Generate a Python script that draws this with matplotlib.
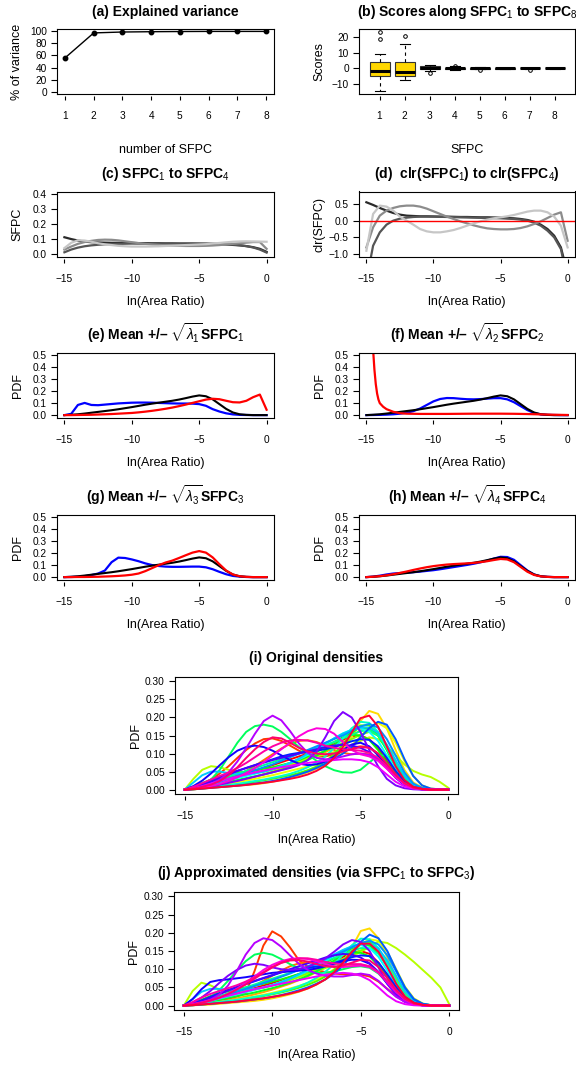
import numpy as np
import matplotlib
matplotlib.use("Agg")
import matplotlib.pyplot as plt
from matplotlib.path import Path
from matplotlib.colors import hsv_to_rgb

plt.rcParams["font.family"] = "Liberation Sans"
plt.rcParams["mathtext.fontset"] = "custom"
plt.rcParams["mathtext.rm"] = "Liberation Sans"
plt.rcParams["mathtext.it"] = "Liberation Sans:italic"
plt.rcParams["mathtext.bf"] = "Liberation Sans:bold"
plt.rcParams["axes.linewidth"] = 0.8

# ---------------- data ----------------
n_sfpc = [1, 2, 3, 4, 5, 6, 7, 8]
cum_var = [56, 97.5, 99, 99.5, 99.8, 100, 100, 100]

box_med = [-1.5, -2.2, 0.4, 0.0, 0.0, 0.0, 0.0, 0.0]
box_q1 = [-4.9, -4.9, -0.4, -0.5, -0.2, -0.15, -0.1, -0.08]
box_q3 = [3.8, 3.8, 1.2, 0.5, 0.2, 0.15, 0.1, 0.08]
box_lo = [-14.8, -7.5, -2.0, -1.2, -0.6, -0.4, -0.3, -0.2]
box_hi = [9.0, 15.6, 2.2, 1.2, 0.6, 0.4, 0.3, 0.2]
box_fliers = [[23.5, 18.8], [20.4], [-3.0], [1.7], [-1.3], [], [-1.0], []]

# x grid of ln(area ratio), step 0.5
ln_ratio = np.linspace(-15, 0, 31)

# (c) SFPC1..SFPC4
sfpc = [
    [0.112, 0.1, 0.09, 0.083, 0.079, 0.077, 0.076, 0.075, 0.075, 0.074, 0.074, 0.073, 0.073, 0.072, 0.072, 0.071,
     0.071, 0.07, 0.07, 0.07, 0.069, 0.068, 0.067, 0.066, 0.064, 0.061, 0.058, 0.053, 0.046, 0.035, 0.015],
    [0.012, 0.03, 0.043, 0.052, 0.058, 0.062, 0.065, 0.067, 0.068, 0.069, 0.07, 0.07, 0.07, 0.07, 0.07, 0.07,
     0.07, 0.07, 0.07, 0.07, 0.07, 0.07, 0.069, 0.068, 0.066, 0.063, 0.059, 0.053, 0.044, 0.03, 0.01],
    [0.03, 0.05, 0.068, 0.08, 0.088, 0.094, 0.096, 0.095, 0.091, 0.085, 0.079, 0.073, 0.068, 0.064, 0.061, 0.058,
     0.056, 0.055, 0.054, 0.054, 0.054, 0.055, 0.057, 0.06, 0.064, 0.068, 0.072, 0.076, 0.08, 0.08, 0.035],
    [0.04, 0.075, 0.092, 0.09, 0.082, 0.072, 0.065, 0.06, 0.055, 0.052, 0.05, 0.05, 0.05, 0.051, 0.052, 0.054,
     0.056, 0.058, 0.06, 0.062, 0.064, 0.066, 0.07, 0.074, 0.078, 0.082, 0.084, 0.085, 0.084, 0.083, 0.082],
]

# (d) clr(SFPC1..SFPC4)
clr_sfpc = [
    [0.55, 0.47, 0.38, 0.30, 0.23, 0.18, 0.15, 0.14, 0.13, 0.13, 0.125, 0.12, 0.12, 0.115, 0.11, 0.11,
     0.105, 0.1, 0.1, 0.095, 0.09, 0.08, 0.07, 0.05, 0.02, -0.03, -0.12, -0.25, -0.45, -0.8, -1.6],
    [-1.8, -0.75, -0.35, -0.12, 0.0, 0.06, 0.09, 0.11, 0.12, 0.12, 0.12, 0.115, 0.11, 0.105, 0.1, 0.095,
     0.09, 0.085, 0.08, 0.075, 0.07, 0.06, 0.05, 0.03, 0.0, -0.06, -0.15, -0.3, -0.5, -0.85, -1.8],
    [-0.8, -0.2, 0.15, 0.3, 0.38, 0.43, 0.45, 0.45, 0.42, 0.36, 0.28, 0.2, 0.12, 0.05, -0.02, -0.08,
     -0.14, -0.19, -0.23, -0.25, -0.26, -0.26, -0.25, -0.22, -0.17, -0.1, -0.02, 0.08, 0.18, 0.25, -0.6],
    [-0.9, 0.2, 0.45, 0.42, 0.3, 0.12, 0.0, -0.12, -0.25, -0.32, -0.35, -0.35, -0.32, -0.28, -0.22, -0.15,
     -0.08, -0.02, 0.03, 0.07, 0.1, 0.13, 0.17, 0.22, 0.27, 0.3, 0.3, 0.25, 0.12, -0.15, -0.8],
]
gray_cols = ["#2a2a2a", "#555555", "#8c8c8c", "#c6c6c6"]

# (e)-(h) mean density and mean +/- sqrt(lambda_k) SFPC_k
mean_pdf = [0, 0.003, 0.007, 0.013, 0.02, 0.027, 0.034, 0.041, 0.049, 0.058, 0.067, 0.077, 0.087, 0.096, 0.104,
            0.112, 0.12, 0.13, 0.142, 0.155, 0.165, 0.158, 0.132, 0.092, 0.052, 0.022, 0.007, 0.002, 0, 0, 0]
e_blue = [0, 0.01, 0.085, 0.102, 0.085, 0.083, 0.088, 0.093, 0.098, 0.101, 0.104, 0.105, 0.105, 0.104, 0.102,
          0.1, 0.098, 0.097, 0.097, 0.096, 0.092, 0.078, 0.05, 0.03, 0.015, 0.006, 0.002, 0.001, 0, 0, 0]
e_red = [0, 0, 0.001, 0.002, 0.003, 0.005, 0.007, 0.009, 0.012, 0.015, 0.018, 0.023, 0.029, 0.036, 0.044,
         0.053, 0.063, 0.075, 0.088, 0.102, 0.116, 0.13, 0.137, 0.133, 0.12, 0.108, 0.106, 0.12, 0.15, 0.172, 0.045]
f_blue = [0, 0.001, 0.002, 0.004, 0.007, 0.012, 0.02, 0.033, 0.055, 0.085, 0.115, 0.135, 0.143, 0.142, 0.137,
          0.133, 0.132, 0.134, 0.138, 0.142, 0.142, 0.132, 0.108, 0.075, 0.042, 0.018, 0.006, 0.002, 0.001, 0, 0]
f_red_x = [-15, -14.75, -14.5, -14.4, -14.3, -14.2, -14.1, -14.0, -13.75, -13.5, -13, -12.5, -12, -11, -10, -9,
           -8, -7, -6, -5, -4, -3, -2, -1, 0]
f_red = [6.0, 2.0, 0.55, 0.38, 0.26, 0.18, 0.13, 0.1, 0.07, 0.05, 0.028, 0.016, 0.012, 0.01, 0.01, 0.01,
         0.011, 0.012, 0.012, 0.012, 0.011, 0.009, 0.006, 0.003, 0.001]
g_blue = [0, 0.001, 0.003, 0.008, 0.017, 0.03, 0.055, 0.125, 0.163, 0.16, 0.148, 0.133, 0.115, 0.101, 0.093,
          0.088, 0.086, 0.086, 0.087, 0.088, 0.088, 0.082, 0.066, 0.044, 0.024, 0.01, 0.004, 0.001, 0, 0, 0]
g_red = [0, 0, 0.001, 0.001, 0.002, 0.003, 0.005, 0.007, 0.01, 0.014, 0.02, 0.03, 0.05, 0.075, 0.1,
         0.122, 0.138, 0.16, 0.183, 0.205, 0.218, 0.205, 0.165, 0.108, 0.055, 0.022, 0.007, 0.002, 0, 0, 0]
h_blue = [0, 0.004, 0.012, 0.022, 0.03, 0.034, 0.037, 0.041, 0.046, 0.052, 0.058, 0.066, 0.075, 0.084, 0.093,
          0.102, 0.112, 0.124, 0.138, 0.155, 0.17, 0.168, 0.145, 0.1, 0.055, 0.022, 0.007, 0.002, 0, 0, 0]
h_red = [0, 0.003, 0.008, 0.015, 0.024, 0.035, 0.047, 0.06, 0.072, 0.083, 0.092, 0.099, 0.105, 0.109, 0.112,
         0.115, 0.119, 0.125, 0.133, 0.143, 0.152, 0.148, 0.125, 0.085, 0.045, 0.018, 0.006, 0.002, 0, 0, 0]

# (i) original densities, PDF x 1000 on the ln_ratio grid
dens_orig = [
    [0, 5, 12, 20, 26, 32, 38, 45, 52, 60, 68, 76, 84, 92, 100, 108, 116, 126, 138, 148, 150, 140, 115, 80, 45, 20, 8, 3, 1, 0, 0],
    [0, 6, 15, 28, 45, 65, 88, 110, 128, 140, 142, 135, 122, 108, 98, 92, 92, 98, 108, 116, 120, 118, 100, 70, 40, 18, 6, 2, 0, 0, 0],
    [0, 3, 8, 15, 22, 30, 40, 52, 66, 82, 98, 114, 127, 135, 137, 132, 122, 110, 102, 98, 100, 98, 85, 60, 35, 15, 5, 1, 0, 0, 0],
    [0, 2, 5, 9, 14, 19, 24, 30, 36, 43, 50, 58, 66, 75, 84, 94, 104, 116, 130, 148, 165, 170, 155, 120, 75, 35, 12, 3, 1, 0, 0],
    [0, 1, 3, 5, 7, 9, 11, 13, 15, 18, 22, 27, 33, 40, 48, 58, 70, 88, 110, 145, 190, 218, 210, 170, 110, 55, 20, 6, 1, 0, 0],
    [0, 2, 5, 9, 13, 17, 21, 25, 30, 35, 40, 46, 52, 58, 64, 70, 78, 88, 102, 122, 148, 172, 185, 170, 130, 80, 38, 12, 3, 1, 0],
    [0, 30, 55, 65, 62, 55, 50, 48, 48, 50, 55, 62, 70, 78, 85, 92, 98, 104, 112, 122, 135, 145, 140, 120, 95, 70, 52, 42, 35, 22, 5],
    [0, 4, 10, 16, 22, 28, 34, 40, 46, 52, 58, 66, 74, 82, 90, 98, 108, 118, 128, 140, 152, 160, 150, 118, 75, 35, 12, 3, 1, 0, 0],
    [0, 1, 3, 6, 9, 12, 15, 18, 22, 26, 30, 35, 40, 46, 54, 64, 78, 98, 125, 155, 178, 178, 155, 110, 62, 25, 8, 2, 0, 0, 0],
    [0, 8, 18, 28, 36, 42, 46, 50, 54, 58, 62, 68, 74, 82, 92, 104, 118, 132, 145, 152, 150, 138, 110, 75, 42, 18, 6, 1, 0, 0, 0],
    [0, 3, 7, 12, 17, 22, 27, 32, 37, 42, 48, 55, 63, 72, 82, 94, 108, 124, 142, 160, 172, 170, 150, 110, 65, 28, 8, 2, 0, 0, 0],
    [0, 4, 12, 28, 55, 92, 130, 160, 176, 180, 175, 160, 140, 118, 98, 80, 65, 54, 48, 47, 55, 75, 95, 95, 70, 35, 12, 3, 1, 0, 0],
    [0, 5, 12, 20, 28, 36, 44, 52, 60, 68, 76, 84, 92, 100, 108, 116, 124, 132, 142, 152, 162, 165, 150, 115, 72, 33, 10, 2, 0, 0, 0],
    [0, 2, 4, 7, 10, 13, 16, 20, 24, 28, 33, 38, 44, 52, 62, 75, 92, 115, 142, 170, 188, 185, 160, 115, 65, 27, 8, 2, 0, 0, 0],
    [0, 3, 8, 14, 20, 26, 32, 38, 44, 50, 57, 65, 74, 84, 96, 110, 126, 142, 156, 166, 170, 160, 135, 95, 55, 22, 7, 2, 0, 0, 0],
    [0, 20, 40, 50, 50, 46, 44, 44, 46, 50, 56, 64, 74, 86, 100, 114, 128, 142, 155, 165, 172, 172, 158, 125, 82, 40, 14, 4, 1, 0, 0],
    [0, 4, 9, 15, 22, 30, 38, 46, 54, 62, 70, 80, 90, 100, 110, 120, 130, 140, 150, 162, 175, 182, 172, 140, 95, 48, 17, 5, 1, 0, 0],
    [0, 1, 3, 5, 7, 9, 11, 14, 17, 20, 24, 29, 35, 42, 50, 60, 72, 85, 100, 118, 145, 170, 188, 180, 140, 85, 38, 12, 3, 1, 0],
    [0, 6, 15, 25, 35, 44, 52, 60, 68, 76, 84, 92, 98, 102, 105, 108, 112, 118, 126, 134, 140, 138, 120, 88, 52, 24, 8, 2, 0, 0, 0],
    [0, 10, 25, 45, 68, 90, 108, 118, 122, 118, 108, 95, 82, 72, 68, 70, 78, 92, 110, 125, 130, 120, 95, 62, 33, 13, 4, 1, 0, 0, 0],
    [0, 5, 12, 22, 32, 42, 52, 60, 68, 75, 82, 88, 94, 100, 106, 112, 118, 122, 124, 122, 116, 104, 85, 60, 35, 16, 5, 1, 0, 0, 0],
    [0, 2, 5, 9, 14, 19, 24, 30, 36, 42, 48, 54, 60, 68, 82, 105, 145, 190, 215, 200, 160, 110, 65, 30, 12, 4, 1, 0, 0, 0, 0],
    [0, 3, 8, 16, 28, 48, 78, 115, 155, 190, 205, 192, 162, 128, 102, 88, 84, 86, 92, 98, 100, 96, 82, 60, 36, 17, 6, 2, 0, 0, 0],
    [0, 4, 10, 17, 24, 30, 36, 42, 48, 53, 58, 62, 66, 70, 74, 77, 80, 82, 84, 84, 82, 76, 62, 42, 22, 9, 3, 1, 0, 0, 0],
    [0, 2, 5, 10, 16, 24, 34, 46, 60, 76, 94, 112, 130, 148, 162, 170, 168, 155, 132, 110, 98, 92, 80, 58, 34, 15, 5, 1, 0, 0, 0],
    [0, 8, 18, 28, 38, 48, 60, 74, 90, 106, 120, 130, 136, 138, 136, 130, 122, 116, 112, 110, 108, 102, 88, 65, 40, 18, 6, 2, 0, 0, 0],
    [0, 3, 8, 14, 24, 40, 62, 88, 112, 132, 145, 142, 130, 116, 106, 100, 98, 100, 106, 112, 118, 116, 100, 72, 42, 18, 6, 2, 0, 0, 0],
    [0, 1, 3, 5, 7, 9, 11, 13, 16, 19, 22, 26, 30, 35, 42, 52, 66, 88, 118, 158, 198, 205, 175, 120, 65, 27, 8, 2, 0, 0, 0],
]

# (j) approximated densities via SFPC1..SFPC3, PDF x 1000
dens_approx = [
    [0, 4, 10, 17, 24, 30, 36, 42, 48, 55, 62, 70, 78, 86, 94, 103, 112, 122, 134, 145, 150, 142, 118, 82, 46, 20, 7, 2, 0, 0, 0],
    [0, 2, 5, 9, 13, 18, 25, 34, 95, 165, 204, 190, 160, 125, 108, 98, 92, 88, 86, 85, 85, 80, 66, 46, 26, 11, 4, 1, 0, 0, 0],
    [0, 3, 7, 12, 18, 25, 33, 43, 55, 68, 82, 96, 108, 116, 120, 120, 117, 114, 112, 112, 112, 108, 92, 66, 38, 16, 5, 1, 0, 0, 0],
    [0, 2, 4, 7, 11, 15, 20, 25, 31, 37, 44, 52, 60, 70, 80, 92, 106, 122, 140, 158, 170, 168, 148, 110, 65, 28, 9, 2, 0, 0, 0],
    [0, 1, 2, 3, 5, 7, 9, 11, 13, 16, 20, 25, 31, 38, 47, 58, 72, 92, 120, 160, 205, 212, 185, 132, 75, 32, 10, 3, 1, 0, 0],
    [0, 2, 4, 7, 10, 13, 17, 21, 25, 30, 35, 41, 47, 54, 62, 72, 84, 100, 120, 145, 168, 182, 178, 148, 100, 52, 20, 6, 1, 0, 0],
    [0, 40, 63, 56, 44, 38, 38, 40, 44, 49, 55, 62, 70, 78, 86, 94, 103, 112, 122, 134, 148, 162, 176, 172, 158, 140, 120, 98, 76, 50, 4],
    [0, 3, 8, 14, 20, 26, 32, 38, 44, 50, 56, 63, 71, 80, 89, 98, 108, 118, 128, 140, 152, 158, 148, 118, 76, 36, 12, 3, 1, 0, 0],
    [0, 1, 3, 5, 8, 11, 14, 18, 22, 26, 31, 36, 42, 49, 57, 67, 80, 98, 122, 150, 172, 175, 155, 112, 64, 27, 9, 2, 0, 0, 0],
    [0, 7, 16, 26, 34, 40, 45, 50, 55, 60, 66, 72, 79, 87, 96, 106, 118, 130, 140, 146, 145, 135, 110, 76, 43, 19, 6, 1, 0, 0, 0],
    [0, 3, 7, 11, 16, 21, 26, 31, 36, 42, 48, 55, 63, 72, 82, 94, 108, 124, 142, 158, 168, 166, 146, 108, 64, 28, 9, 2, 0, 0, 0],
    [0, 4, 10, 22, 42, 68, 96, 122, 140, 145, 140, 128, 114, 102, 94, 90, 90, 94, 100, 106, 108, 104, 88, 63, 37, 16, 5, 1, 0, 0, 0],
    [0, 5, 11, 18, 26, 34, 42, 50, 58, 66, 74, 82, 90, 98, 106, 114, 122, 131, 140, 150, 158, 158, 142, 108, 67, 30, 10, 2, 0, 0, 0],
    [0, 2, 4, 7, 10, 13, 16, 20, 24, 28, 33, 38, 45, 53, 63, 76, 93, 114, 140, 166, 184, 182, 158, 114, 64, 27, 8, 2, 0, 0, 0],
    [0, 3, 8, 13, 19, 25, 31, 37, 43, 50, 57, 65, 74, 84, 95, 108, 123, 138, 152, 162, 166, 158, 134, 96, 56, 23, 7, 2, 0, 0, 0],
    [0, 18, 38, 46, 46, 44, 43, 44, 46, 50, 56, 64, 74, 86, 99, 113, 127, 141, 153, 163, 170, 170, 156, 124, 82, 40, 14, 4, 1, 0, 0],
    [0, 4, 9, 15, 22, 30, 38, 46, 54, 62, 70, 79, 88, 98, 108, 118, 128, 138, 148, 160, 172, 178, 168, 138, 94, 48, 17, 5, 1, 0, 0],
    [0, 1, 3, 5, 7, 9, 11, 14, 17, 20, 24, 29, 35, 42, 50, 60, 72, 88, 110, 140, 175, 195, 185, 150, 98, 50, 18, 5, 1, 0, 0],
    [0, 6, 14, 24, 34, 43, 51, 59, 67, 75, 83, 91, 97, 101, 104, 107, 111, 117, 125, 133, 138, 136, 118, 86, 51, 23, 8, 2, 0, 0, 0],
    [0, 18, 45, 65, 70, 72, 75, 78, 82, 86, 90, 92, 94, 96, 98, 102, 108, 115, 122, 126, 125, 115, 92, 60, 32, 13, 4, 1, 0, 0, 0],
    [0, 5, 12, 21, 31, 41, 51, 60, 68, 76, 84, 92, 100, 108, 116, 124, 132, 138, 142, 140, 132, 116, 92, 62, 34, 15, 5, 1, 0, 0, 0],
    [0, 8, 22, 40, 62, 82, 98, 110, 115, 112, 105, 100, 98, 100, 106, 116, 130, 148, 168, 180, 175, 150, 105, 60, 28, 10, 3, 1, 0, 0, 0],
    [0, 3, 8, 16, 30, 55, 95, 140, 172, 185, 180, 162, 138, 115, 98, 88, 82, 80, 80, 84, 88, 84, 68, 45, 24, 10, 3, 1, 0, 0, 0],
    [0, 4, 9, 15, 21, 27, 33, 39, 45, 50, 55, 60, 65, 70, 75, 80, 85, 88, 90, 88, 82, 70, 50, 28, 12, 4, 1, 0, 0, 0, 0],
    [0, 3, 7, 13, 21, 32, 46, 62, 80, 98, 112, 122, 128, 130, 128, 122, 114, 108, 106, 108, 110, 106, 90, 64, 37, 16, 5, 1, 0, 0, 0],
    [0, 10, 22, 32, 40, 48, 56, 66, 78, 92, 106, 118, 126, 130, 130, 126, 120, 116, 114, 114, 114, 108, 92, 67, 40, 18, 6, 2, 0, 0, 0],
    [0, 3, 8, 14, 22, 32, 44, 58, 74, 90, 105, 117, 124, 125, 121, 114, 108, 106, 110, 118, 126, 124, 106, 76, 44, 19, 6, 2, 0, 0, 0],
    [0, 1, 3, 5, 7, 9, 11, 14, 17, 20, 24, 28, 33, 39, 47, 58, 72, 92, 118, 148, 170, 170, 148, 106, 60, 25, 8, 2, 0, 0, 0],
]

# ticks
pct_ticks = [0, 20, 40, 60, 80, 100]
pct_labels = ["0", "20", "40", "60", "80", "100"]
score_ticks = [-10, 0, 10, 20]
score_labels = ["\u221210", "0", "10", "20"]
sfpc_ticks = [0, 0.1, 0.2, 0.3, 0.4]
sfpc_labels = ["0.0", "0.1", "0.2", "0.3", "0.4"]
clr_ticks = [-1, -0.5, 0, 0.5]
clr_labels = ["\u22121.0", "\u22120.5", "0.0", "0.5"]
pdf_ticks = [0, 0.1, 0.2, 0.3, 0.4, 0.5]
pdf_labels = ["0.0", "0.1", "0.2", "0.3", "0.4", "0.5"]
dens_ticks = [0, 0.05, 0.1, 0.15, 0.2, 0.25, 0.3]
dens_labels = ["0.00", "0.05", "0.10", "0.15", "0.20", "0.25", "0.30"]
area_ticks = [-15, -10, -5, 0]
area_labels = ["\u221215", "\u221210", "\u22125", "0"]
n_labels = [str(k) for k in n_sfpc]

# ---------------- layout helpers ----------------
W, H = 576, 1065
TICK_FS, LAB_FS, TITLE_FS = 7.3, 9, 10
AREA_LIM = (-15.55, 0.55)

fig = plt.figure(figsize=(W / 100, H / 100), dpi=100)


def make_axes(box):
    left, top, right, bottom = box
    return fig.add_axes([left / W, 1 - bottom / H, (right - left) / W, (bottom - top) / H])


def fig_text(x, y, s, **kw):
    fig.text(x / W, 1 - y / H, s, **kw)


# x ticks in the reference sit a little below the frame
xtick_marker = Path([(0, -1.1), (0, -4.4)])


def dress(ax, box, xlim, ylim, xticks, xlabels, yticks, ylabels, title, xlab, ylab, title_y, xlab_y):
    left, top, right, bottom = box
    ax.set_xticks(xticks, xlabels)
    ax.set_yticks(yticks, ylabels)
    ax.tick_params(axis="x", length=0, pad=12.5, labelsize=TICK_FS)
    ax.tick_params(axis="y", direction="out", length=4.3, width=0.8, pad=3, labelsize=TICK_FS)
    ax.plot(xticks, np.zeros(len(xticks)), ls="none", marker=xtick_marker, ms=8.8, mew=0.8,
            mec="black", transform=ax.get_xaxis_transform(), clip_on=False)
    ax.set_xlim(*xlim)
    ax.set_ylim(*ylim)
    cx = (left + right) / 2
    fig_text(cx, title_y, title, ha="center", va="baseline", fontsize=TITLE_FS, fontweight="bold")
    fig_text(cx, xlab_y, xlab, ha="center", va="center", fontsize=LAB_FS)
    fig_text(left - 39.5, (top + bottom) / 2, ylab, ha="center", va="center", rotation=90, fontsize=LAB_FS)


box_a = (57, 29, 274, 94)
box_b = (359, 29, 575, 94)
box_c = (57, 191.5, 274, 256.5)
box_d = (359, 191.5, 575, 256.5)
box_e = (57, 353, 274, 417.5)
box_f = (359, 353, 575, 417.5)
box_g = (57, 515, 274, 579.5)
box_h = (359, 515, 575, 579.5)
box_i = (175, 677, 458, 794)
box_j = (174, 892, 459, 1010)

# (a) explained variance
ax = make_axes(box_a)
ax.plot(n_sfpc, cum_var, color="black", lw=1.0, marker="o", ms=3.2)
dress(ax, box_a, (0.72, 8.28), (-4, 104), n_sfpc, n_labels, pct_ticks, pct_labels,
      "(a) Explained variance", "number of SFPC", "% of variance", 16, 150)

# (b) scores boxplots
ax = make_axes(box_b)
stats = [dict(med=m, q1=a, q3=b, whislo=lo, whishi=hi, fliers=fl)
         for m, a, b, lo, hi, fl in zip(box_med, box_q1, box_q3, box_lo, box_hi, box_fliers)]
ax.bxp(stats, positions=n_sfpc, widths=0.8, capwidths=0.4, patch_artist=True,
       boxprops=dict(facecolor="#FFD700", edgecolor="#333333", linewidth=0.8),
       medianprops=dict(color="black", linewidth=2.2),
       whiskerprops=dict(color="black", linewidth=0.8, linestyle=(0, (3, 3))),
       capprops=dict(color="black", linewidth=0.8),
       flierprops=dict(marker="o", ms=2.6, mfc="none", mec="black", mew=0.7))
dress(ax, box_b, (0.18, 8.82), (-16.4, 25.1), n_sfpc, n_labels, score_ticks, score_labels,
      "(b) Scores along SFPC$_1$ to SFPC$_8$", "SFPC", "Scores", 16, 150)

# (c) SFPC curves
ax = make_axes(box_c)
for k, curve in enumerate(sfpc):
    ax.plot(ln_ratio, curve, color=gray_cols[k], lw=1.6)
dress(ax, box_c, AREA_LIM, (-0.016, 0.416), area_ticks, area_labels, sfpc_ticks, sfpc_labels,
      "(c) SFPC$_1$ to SFPC$_4$", "ln(Area Ratio)", "SFPC", 178, 302)

# (d) clr SFPC curves
ax = make_axes(box_d)
for k, curve in enumerate(clr_sfpc):
    ax.plot(ln_ratio, curve, color=gray_cols[k], lw=1.6)
ax.axhline(0, color="red", lw=1.0)
dress(ax, box_d, AREA_LIM, (-1.072, 0.872), area_ticks, area_labels, clr_ticks, clr_labels,
      "(d)  clr(SFPC$_1$) to clr(SFPC$_4$)", "ln(Area Ratio)", "clr(SFPC)", 178, 302)

# (e)-(h) mean +/- modes
modes = [
    (box_e, "e", 1, ln_ratio, e_blue, ln_ratio, e_red, 340, 463),
    (box_f, "f", 2, ln_ratio, f_blue, f_red_x, f_red, 340, 463),
    (box_g, "g", 3, ln_ratio, g_blue, ln_ratio, g_red, 502, 625),
    (box_h, "h", 4, ln_ratio, h_blue, ln_ratio, h_red, 502, 625),
]
for box, tag, k, bx, blue, rx, red, ty, ly in modes:
    ax = make_axes(box)
    ax.plot(bx, blue, color="#0000FF", lw=1.6)
    ax.plot(ln_ratio, mean_pdf, color="black", lw=1.5)
    ax.plot(rx, red, color="#FF0000", lw=1.6)
    title = "(%s) Mean +/\u2013 $\\sqrt{\\lambda_%d}$SFPC$_%d$" % (tag, k, k)
    dress(ax, box, AREA_LIM, (-0.02, 0.52), area_ticks, area_labels, pdf_ticks, pdf_labels,
          title, "ln(Area Ratio)", "PDF", ty, ly)

# (i), (j) densities in rainbow colours
for box, dens, title, ty, ly in [
    (box_i, dens_orig, "(i) Original densities", 662, 840),
    (box_j, dens_approx, "(j) Approximated densities (via SFPC$_1$ to SFPC$_3$)", 877, 1055),
]:
    ax = make_axes(box)
    n = len(dens)
    for k, row in enumerate(dens):
        ax.plot(ln_ratio, np.array(row) / 1000, color=hsv_to_rgb((k / n, 1, 1)), lw=1.4)
    dress(ax, box, AREA_LIM, (-0.012, 0.312), area_ticks, area_labels, dens_ticks, dens_labels,
          title, "ln(Area Ratio)", "PDF", ty, ly)

fig.savefig("out.png", dpi=100)
